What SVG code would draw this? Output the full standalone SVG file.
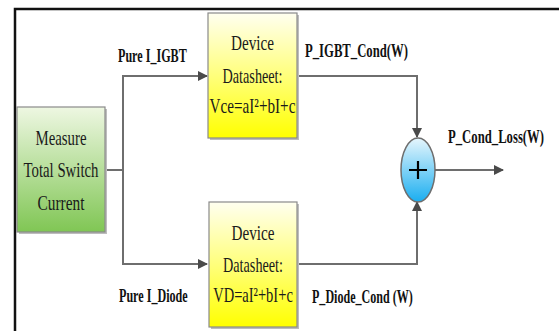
<svg xmlns="http://www.w3.org/2000/svg" width="559" height="331" viewBox="0 0 559 331">
<style>
.box{font-family:"Liberation Serif","Times New Roman",serif;font-size:22px;fill:#1a1a1a;text-anchor:middle}
.lbl{font-family:"Liberation Serif","Times New Roman",serif;font-size:18px;font-weight:bold;fill:#111}
.wire{fill:none;stroke:#6e6e6e;stroke-width:2}
.shadow{fill:#bdbdbd}
</style>
<defs>
<linearGradient id="gy" x1="0" y1="0" x2="0" y2="1">
<stop offset="0" stop-color="#fffff0"/>
<stop offset="0.55" stop-color="#ffff70"/>
<stop offset="1" stop-color="#ffff00"/>
</linearGradient>
<linearGradient id="gg" x1="0" y1="0" x2="0" y2="1">
<stop offset="0" stop-color="#eef7e2"/>
<stop offset="1" stop-color="#80c654"/>
</linearGradient>
<linearGradient id="gb" x1="0" y1="0" x2="0" y2="1">
<stop offset="0" stop-color="#e6f6fd"/>
<stop offset="1" stop-color="#1aaef0"/>
</linearGradient>
<marker id="ar" markerWidth="10" markerHeight="10" refX="9" refY="5" orient="auto" markerUnits="userSpaceOnUse">
<path d="M0,0 L10,5 L0,10 Z" fill="#4a4a4a"/>
</marker>
</defs>
<rect width="559" height="331" fill="#fff"/>
<polyline points="15,331 15,9 559,9" fill="none" stroke="#111" stroke-width="2.5"/>

<g id="connectors">
<polyline class="wire" points="105,170 123,170 123,76 207,76" marker-end="url(#ar)"/>
<polyline class="wire" points="123,170 123,264 207,264" marker-end="url(#ar)"/>
<polyline class="wire" points="297,76 417,76 417,137" marker-end="url(#ar)"/>
<polyline class="wire" points="297,264 417,264 417,202" marker-end="url(#ar)"/>
<line class="wire" x1="435" y1="170" x2="503" y2="170" marker-end="url(#ar)"/>
</g>

<g id="measure">
<rect class="shadow" x="19" y="109" width="88" height="125"/>
<rect x="17" y="107" width="88" height="125" fill="url(#gg)" stroke="#8a8a8a" stroke-width="1.2"/>
<text class="box" transform="translate(61,145) scale(0.674,1)">Measure</text>
<text class="box" transform="translate(61,177) scale(0.672,1)">Total Switch</text>
<text class="box" transform="translate(61,210) scale(0.70,1)">Current</text>
</g>

<g id="igbt-datasheet">
<rect class="shadow" x="210" y="15" width="89" height="125"/>
<rect x="208" y="13" width="89" height="125" fill="url(#gy)" stroke="#8a8a8a" stroke-width="1.2"/>
<text class="box" transform="translate(252.5,50) scale(0.69,1)">Device</text>
<text class="box" transform="translate(252.5,83) scale(0.646,1)">Datasheet:</text>
<text class="box" transform="translate(252.5,113) scale(0.69,1)">Vce=aI²+bI+c</text>
</g>

<g id="diode-datasheet">
<rect class="shadow" x="211" y="204" width="88" height="125"/>
<rect x="209" y="202" width="88" height="125" fill="url(#gy)" stroke="#8a8a8a" stroke-width="1.2"/>
<text class="box" transform="translate(253,240) scale(0.69,1)">Device</text>
<text class="box" transform="translate(253,272) scale(0.646,1)">Datasheet:</text>
<text class="box" transform="translate(253,302) scale(0.66,1)">VD=aI²+bI+c</text>
</g>

<g id="sum">
<ellipse cx="418" cy="170" rx="17" ry="32" fill="url(#gb)" stroke="#6e6e6e" stroke-width="1.5"/>
<path d="M418,161 V179 M409,170 H427" stroke="#000" stroke-width="2.2"/>
</g>

<g id="labels">
<text class="lbl" transform="translate(118,62) scale(0.673,1)">Pure I_IGBT</text>
<text class="lbl" transform="translate(305,57) scale(0.705,1)">P_IGBT_Cond(W)</text>
<text class="lbl" transform="translate(448,143) scale(0.706,1)">P_Cond_Loss(W)</text>
<text class="lbl" transform="translate(119,302) scale(0.673,1)">Pure I_Diode</text>
<text class="lbl" transform="translate(312,303) scale(0.671,1)">P_Diode_Cond (W)</text>
</g>
</svg>
